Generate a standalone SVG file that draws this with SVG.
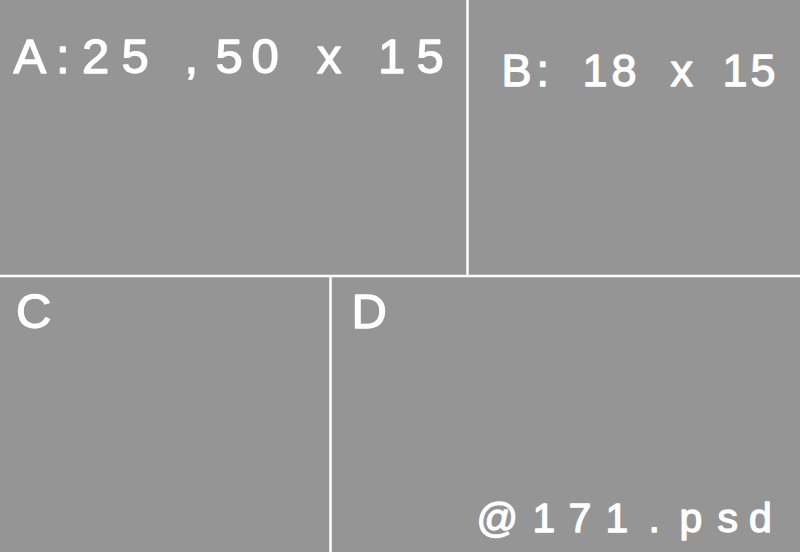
<svg xmlns="http://www.w3.org/2000/svg" width="800" height="552" viewBox="0 0 800 552">
<style>
.bg{fill:#959595}
.ln{stroke:#ffffff;stroke-width:2.5;fill:none}
.t{fill:#ffffff;stroke:#ffffff;stroke-width:1.3;stroke-linejoin:round;font-family:"Liberation Sans",Arial,sans-serif}
</style>
<rect class="bg" x="0" y="0" width="800" height="552"/>
<g id="connectors">
<line class="ln" x1="467.5" y1="0" x2="467.5" y2="276"/>
<line class="ln" x1="0" y1="276" x2="800" y2="276"/>
<line class="ln" x1="330.5" y1="276" x2="330.5" y2="552"/>
</g>
<g id="nodeA">
<text class="t" font-size="49" y="72.5" x="13.5 56 82 121.5 160 184.5 215.5 251.5 290 317 350 378 416.5">A:25 ,50 x 15</text>
</g>
<g id="nodeB">
<text class="t" font-size="45" y="85.5" x="501.5 536.5 560 582.5 611.5 645 670.5 700 722.5 750.5">B: 18 x 15</text>
</g>
<g id="nodeC">
<text class="t" font-size="49" x="16" y="327.5">C</text>
</g>
<g id="nodeD">
<text class="t" font-size="49" x="351.5" y="327.5">D</text>
<text class="t" font-size="41" y="531.5" x="476.5 532.5 568.5 605.5 648.5 679.5 717.5 749">@171.psd</text>
</g>
</svg>
